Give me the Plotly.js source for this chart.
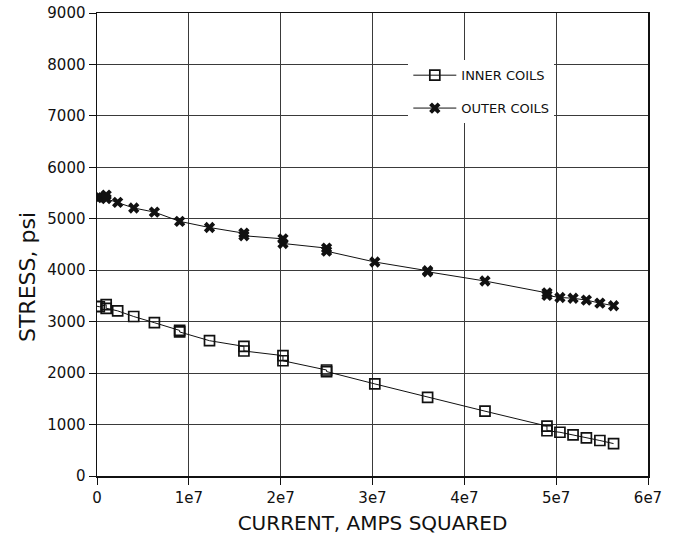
<!DOCTYPE html>
<html>
<head>
<meta charset="utf-8">
<script src="https://cdn.plot.ly/plotly-3.0.1.min.js"></script>
<style>html,body{margin:0;padding:0;background:#fff;}#chart{width:680px;height:535px;}</style>
</head>
<body>
<div id="chart"></div>
<script>
// Current squared (A^2) and stress (psi)
const innerCurrentSq = [0, 250000, 1000000, 1000000, 2250000, 4000000, 6250000, 9000000, 9000000, 12250000, 16000000, 16000000, 20250000, 20250000, 25000000, 25000000, 30250000, 36000000, 42250000, 49000000, 49000000, 50410000, 51840000, 53290000, 54760000, 56250000];
const innerStress = [3300, 3290, 3330, 3260, 3210, 3100, 2980, 2830, 2800, 2630, 2520, 2430, 2340, 2240, 2060, 2030, 1790, 1530, 1260, 970, 880, 850, 800, 740, 690, 630];

const outerCurrentSq = [0, 250000, 1000000, 1000000, 2250000, 4000000, 6250000, 9000000, 12250000, 16000000, 16000000, 20250000, 20250000, 25000000, 25000000, 30250000, 36000000, 36000000, 42250000, 49000000, 49000000, 50410000, 51840000, 53290000, 54760000, 56250000];
const outerStress = [5410, 5420, 5460, 5390, 5320, 5210, 5130, 4950, 4830, 4720, 4670, 4610, 4520, 4430, 4370, 4160, 3990, 3970, 3790, 3560, 3510, 3470, 3455, 3420, 3360, 3310];

const seriesNames = ['INNER COILS', 'OUTER COILS'];
const xTickVals = [0, 10000000, 20000000, 30000000, 40000000, 50000000, 60000000];
const xTickText = ['0', '1e7', '2e7', '3e7', '4e7', '5e7', '6e7'];
const yTickVals = [0, 1000, 2000, 3000, 4000, 5000, 6000, 7000, 8000, 9000];
const yTickText = ['0', '1000', '2000', '3000', '4000', '5000', '6000', '7000', '8000', '9000'];
const xTitle = 'CURRENT, AMPS SQUARED';
const yTitle = 'STRESS, psi';

const FONT = 'DejaVu Sans, Verdana, sans-serif';

const traces = [
  {
    x: innerCurrentSq, y: innerStress, name: seriesNames[0],
    type: 'scatter', mode: 'lines+markers', legendgroup: 'a',
    line: {color: '#111', width: 1},
    marker: {symbol: 'square-open', size: 10, color: '#111', line: {width: 1.7, color: '#111'}}
  },
  {
    x: outerCurrentSq, y: outerStress, name: seriesNames[1],
    type: 'scatter', mode: 'lines+markers', legendgroup: 'b',
    line: {color: '#111', width: 1},
    marker: {symbol: 'x', size: 10, color: '#111', line: {width: 0}}
  }
];

const axisCommon = {
  showline: true, mirror: true, linecolor: '#111', linewidth: 1.5,
  showgrid: true, gridcolor: '#3a3a3a', gridwidth: 1,
  zeroline: false, ticks: 'outside', ticklen: 7, tickcolor: '#111', tickwidth: 1,
  tickfont: {family: FONT, size: 15, color: '#111'},
  automargin: false
};

const layout = {
  width: 680, height: 535,
  margin: {l: 97, r: 32, t: 13, b: 59},
  paper_bgcolor: '#fff', plot_bgcolor: '#fff',
  showlegend: true,
  legend: {
    x: 0.565, y: 0.898, xanchor: 'left', yanchor: 'top',
    bgcolor: '#fff', borderwidth: 0,
    traceorder: 'grouped', tracegroupgap: 13,
    itemwidth: 43,
    font: {family: FONT, size: 13, color: '#111'}
  },
  xaxis: Object.assign({}, axisCommon, {
    range: [0, 60000000], tickvals: xTickVals, ticktext: xTickText,
    title: {text: xTitle, font: {family: FONT, size: 20, color: '#111'}, standoff: 10}
  }),
  yaxis: Object.assign({}, axisCommon, {
    range: [0, 9000], tickvals: yTickVals, ticktext: yTickText,
    title: {text: ''}
  }),
  annotations: [{
    text: yTitle, textangle: -90, showarrow: false,
    xref: 'paper', yref: 'paper', x: -0.125, y: 0.43,
    xanchor: 'center', yanchor: 'middle',
    font: {family: FONT, size: 22, color: '#111'}
  }]
};

Plotly.newPlot('chart', traces, layout, {displayModeBar: false, staticPlot: true});
</script>
</body>
</html>
